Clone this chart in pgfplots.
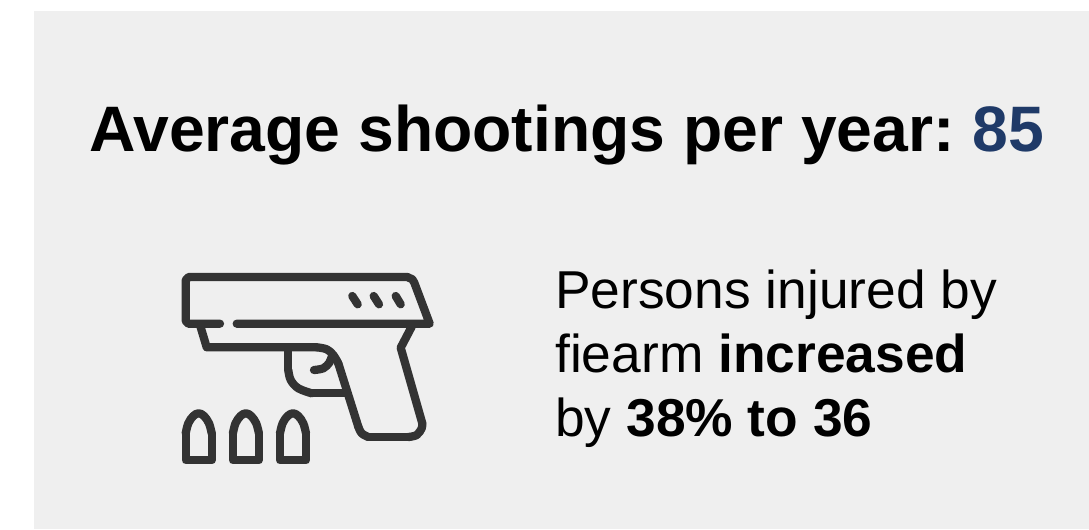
\documentclass[border=0pt]{standalone}
\usepackage{pgfplots}
\pgfplotsset{compat=1.18}
\usepackage{fontspec}
\setmainfont{Liberation Sans}
\definecolor{panel}{HTML}{EFEFEF}
\definecolor{icon}{HTML}{333333}
\definecolor{accent}{HTML}{1F3A68}
\begin{document}
\begin{tikzpicture}
\begin{axis}[
  scale only axis, width=816.75pt, height=396.75pt,
  xmin=0, xmax=1089, ymin=0, ymax=529, y dir=reverse,
  hide axis, clip=true,
  every axis plot/.append style={no markers},
  gunline/.style={icon, line width=6.2pt, line cap=round, line join=round},
]
% page and panel background
\addplot[draw=none, fill=white] coordinates {(0,0) (1089,0) (1089,529) (0,529)} -- cycle;
\addplot[draw=none, fill=panel] coordinates {(34,11) (1089,11) (1089,529) (34,529)} -- cycle;

% slide
\addplot[gunline] coordinates {(220,323.7) (188.3,323.7) (185.7,321) (185.7,280) (188.7,277) (407.3,277) (412.3,279.3) (414.3,282.7) (429.7,323.7) (236.7,323.7)};
% frame and grip
\addplot[gunline] coordinates {(200,325) (206.7,347.3) (316.7,347.3)};
\addplot[gunline, smooth, tension=0.6] coordinates {(316.7,347.3) (326.7,349.3) (333.3,355) (338.3,363.3)};
\addplot[gunline] coordinates {(338.3,363.3) (358.3,426.7)};
\addplot[gunline, smooth, tension=0.6] coordinates {(358.3,426.7) (361.7,433.3) (368.3,437)};
\addplot[gunline] coordinates {(368.3,437) (408.3,437)};
\addplot[gunline, smooth, tension=0.6] coordinates {(408.3,437) (416.7,435) (421.7,428.3) (422.3,423.3)};
\addplot[gunline] coordinates {(422.3,423.3) (400.7,347.7) (411.7,326.7)};
% trigger guard and trigger
\addplot[gunline] coordinates {(288.3,348.3) (288.3,370)};
\addplot[gunline, smooth, tension=0.6] coordinates {(288.3,370) (290.7,380) (298.3,388.3) (311.7,393.3)};
\addplot[gunline] coordinates {(311.7,393.3) (346.7,393.3)};
\addplot[gunline, smooth, tension=0.6] coordinates {(314,370) (323.3,368.3) (329.3,362.7) (331.7,356.7)};
% slide serrations
\addplot[gunline] coordinates {(352.3,296) (357.7,304.3)};
\addplot[gunline] coordinates {(373.7,296) (379,304.3)};
\addplot[gunline] coordinates {(395.7,296) (400.7,304.3)};

% cartridges
\addplot[gunline, smooth, tension=0.6] coordinates {(185.7,433.3) (188.3,423.3) (193.3,416) (198.7,413.3) (204,416) (209,423.3) (211.7,433.3)};
\addplot[gunline] coordinates {(211.7,433.3) (211.7,460.3) (185.7,460.3) (185.7,433.3)};
\addplot[gunline, smooth, tension=0.6] coordinates {(232.9,433.3) (235.5,423.3) (240.5,416) (245.9,413.3) (251.2,416) (256.2,423.3) (258.9,433.3)};
\addplot[gunline] coordinates {(258.9,433.3) (258.9,460.3) (232.9,460.3) (232.9,433.3)};
\addplot[gunline, smooth, tension=0.6] coordinates {(280,433.3) (282.6,423.3) (287.6,416) (293,413.3) (298.3,416) (303.3,423.3) (306,433.3)};
\addplot[gunline] coordinates {(306,433.3) (306,460.3) (280,460.3) (280,433.3)};

% headline and caption
\node[anchor=base west, inner sep=0pt, font=\fontsize{48.2}{48.2}\selectfont\bfseries] at (axis cs:89,151.5) {Average shootings per year:\kern 13.5pt\textcolor{accent}{85}};
\node[anchor=base west, inner sep=0pt, font=\fontsize{40}{40}\selectfont] at (axis cs:555,308) {Persons injured by};
\node[anchor=base west, inner sep=0pt, font=\fontsize{40}{40}\selectfont] at (axis cs:555,372) {fiearm \textbf{increased}};
\node[anchor=base west, inner sep=0pt, font=\fontsize{40}{40}\selectfont] at (axis cs:555,436) {by \textbf{38\% to 36}};
\end{axis}
\end{tikzpicture}
\end{document}
